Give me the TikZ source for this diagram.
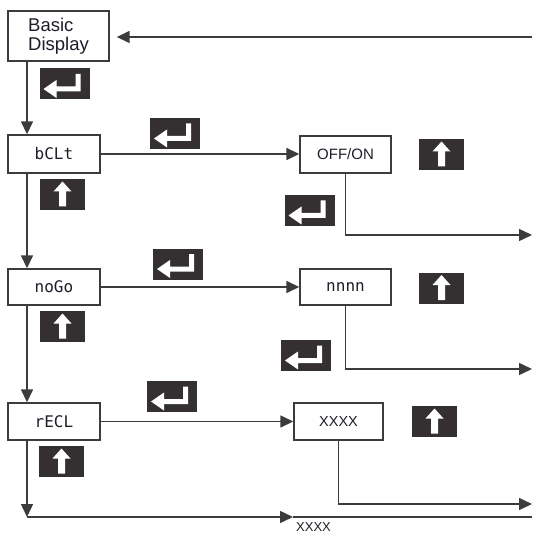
\documentclass[tikz,border=0pt]{standalone}
\usepackage{fontspec}
\setmainfont{Liberation Sans}
\newfontfamily\segfont{DejaVu Sans Mono}
\usetikzlibrary{arrows.meta}
\definecolor{ln}{HTML}{3C3C3C}
\definecolor{keyc}{HTML}{343031}
\definecolor{txt}{HTML}{1E1E2A}
\tikzset{
  box/.style={draw=ln, line width=1.4pt, fill=white, inner sep=0pt, text=txt},
  seg/.style={box, font=\segfont\fontsize{16}{16}\selectfont},
  keybox/.style={fill=keyc, draw=none, minimum height=31pt, inner sep=0pt},
  enterkey/.style={keybox, minimum width=50pt},
  upkey/.style={keybox, minimum width=45pt},
  conn/.style={draw=ln, line width=1.5pt},
  arr/.style={conn, -{Triangle[length=13pt,width=12pt]}},
  enterglyph/.pic={\fill[white] (-21,5) -- (-8,-4) -- (-8,2.5) -- (11,2.5) -- (11,-10) -- (16,-10) -- (16,7.5) -- (-8,7.5) -- (-8,14) -- cycle;},
  upglyph/.pic={\fill[white] (0,-13) -- (9,-3) -- (3.5,-3) -- (3.5,12) -- (-3.5,12) -- (-3.5,-3) -- (-9,-3) -- cycle;}
}
\begin{document}
\begin{tikzpicture}[x=1pt,y=-1pt]
\useasboundingbox (0,0) rectangle (532,534);

% boxes
\node[box, minimum width=101pt, minimum height=50pt, align=left, font=\fontsize{18.5}{19}\selectfont] (bd) at (58.5,36) {Basic\\Display};
\node[seg, minimum width=92pt, minimum height=38pt] (b1) at (54,154) {bCLt};
\node[seg, minimum width=92pt, minimum height=36pt] (b2) at (54,287) {noGo};
\node[seg, minimum width=92pt, minimum height=37pt] (b3) at (54,421.5) {rECL};
\node[box, minimum width=91pt, minimum height=37pt, font=\fontsize{15}{15}\selectfont] (v1) at (345.5,154.5) {OFF/ON};
\node[seg, minimum width=91pt, minimum height=36pt] (v2) at (345.5,287) {nnnn};
\node[box, minimum width=89pt, minimum height=37pt, font=\fontsize{14.5}{14.5}\selectfont] (v3) at (338.5,421.5) {XXXX};
\node[inner sep=0pt, anchor=north, text=txt, font=\fontsize{13}{13}\selectfont] (lb) at (313.5,522.5) {XXXX};

% key icons
\node[enterkey] (k0) at (64.5,84) {}; \pic at (k0) {enterglyph};
\node[enterkey] (k1) at (175,133.5) {}; \pic at (k1) {enterglyph};
\node[enterkey] (k2) at (178,264) {}; \pic at (k2) {enterglyph};
\node[enterkey] (k3) at (172,396.5) {}; \pic at (k3) {enterglyph};
\node[enterkey] (k4) at (309.5,210.5) {}; \pic at (k4) {enterglyph};
\node[enterkey] (k5) at (306,355.5) {}; \pic at (k5) {enterglyph};
\node[upkey] (u1) at (62.5,194.5) {}; \pic at (u1) {upglyph};
\node[upkey] (u2) at (62.5,326.5) {}; \pic at (u2) {upglyph};
\node[upkey] (u3) at (61.5,461.5) {}; \pic at (u3) {upglyph};
\node[upkey] (u4) at (441.5,154.5) {}; \pic at (u4) {upglyph};
\node[upkey] (u5) at (441.5,288) {}; \pic at (u5) {upglyph};
\node[upkey] (u6) at (434.5,421.5) {}; \pic at (u6) {upglyph};

% helper coordinates
\coordinate (lx) at (27,0);
\coordinate (r0) at (532,37);
\coordinate (r1) at (532,235);
\coordinate (r2) at (532,369);
\coordinate (r3) at (532,504);
\coordinate (c) at (27,517);
\coordinate (m) at (293,517);
\coordinate (r4) at (532,517);

% connectors
\draw[arr, shorten >=7pt] (r0) -- (r0 -| bd.east);
\draw[arr] (bd.south -| lx) -- (b1.north -| lx);
\draw[arr] (b1.south -| lx) -- (b2.north -| lx);
\draw[arr] (b2.south -| lx) -- (b3.north -| lx);
\draw[arr] (b3.south -| lx) -- (c);
\draw[arr] (c) -- (m);
\draw[conn] (m) -- (r4);
\draw[arr] (b1.east) -- (b1.east -| v1.west);
\draw[arr] (b2.east) -- (b2.east -| v2.west);
\draw[arr] (b3.east) -- (b3.east -| v3.west);
\draw[arr] (v1.south) |- (r1);
\draw[arr] (v2.south) |- (r2);
\draw[arr] (v3.south) |- (r3);
\end{tikzpicture}
\end{document}
